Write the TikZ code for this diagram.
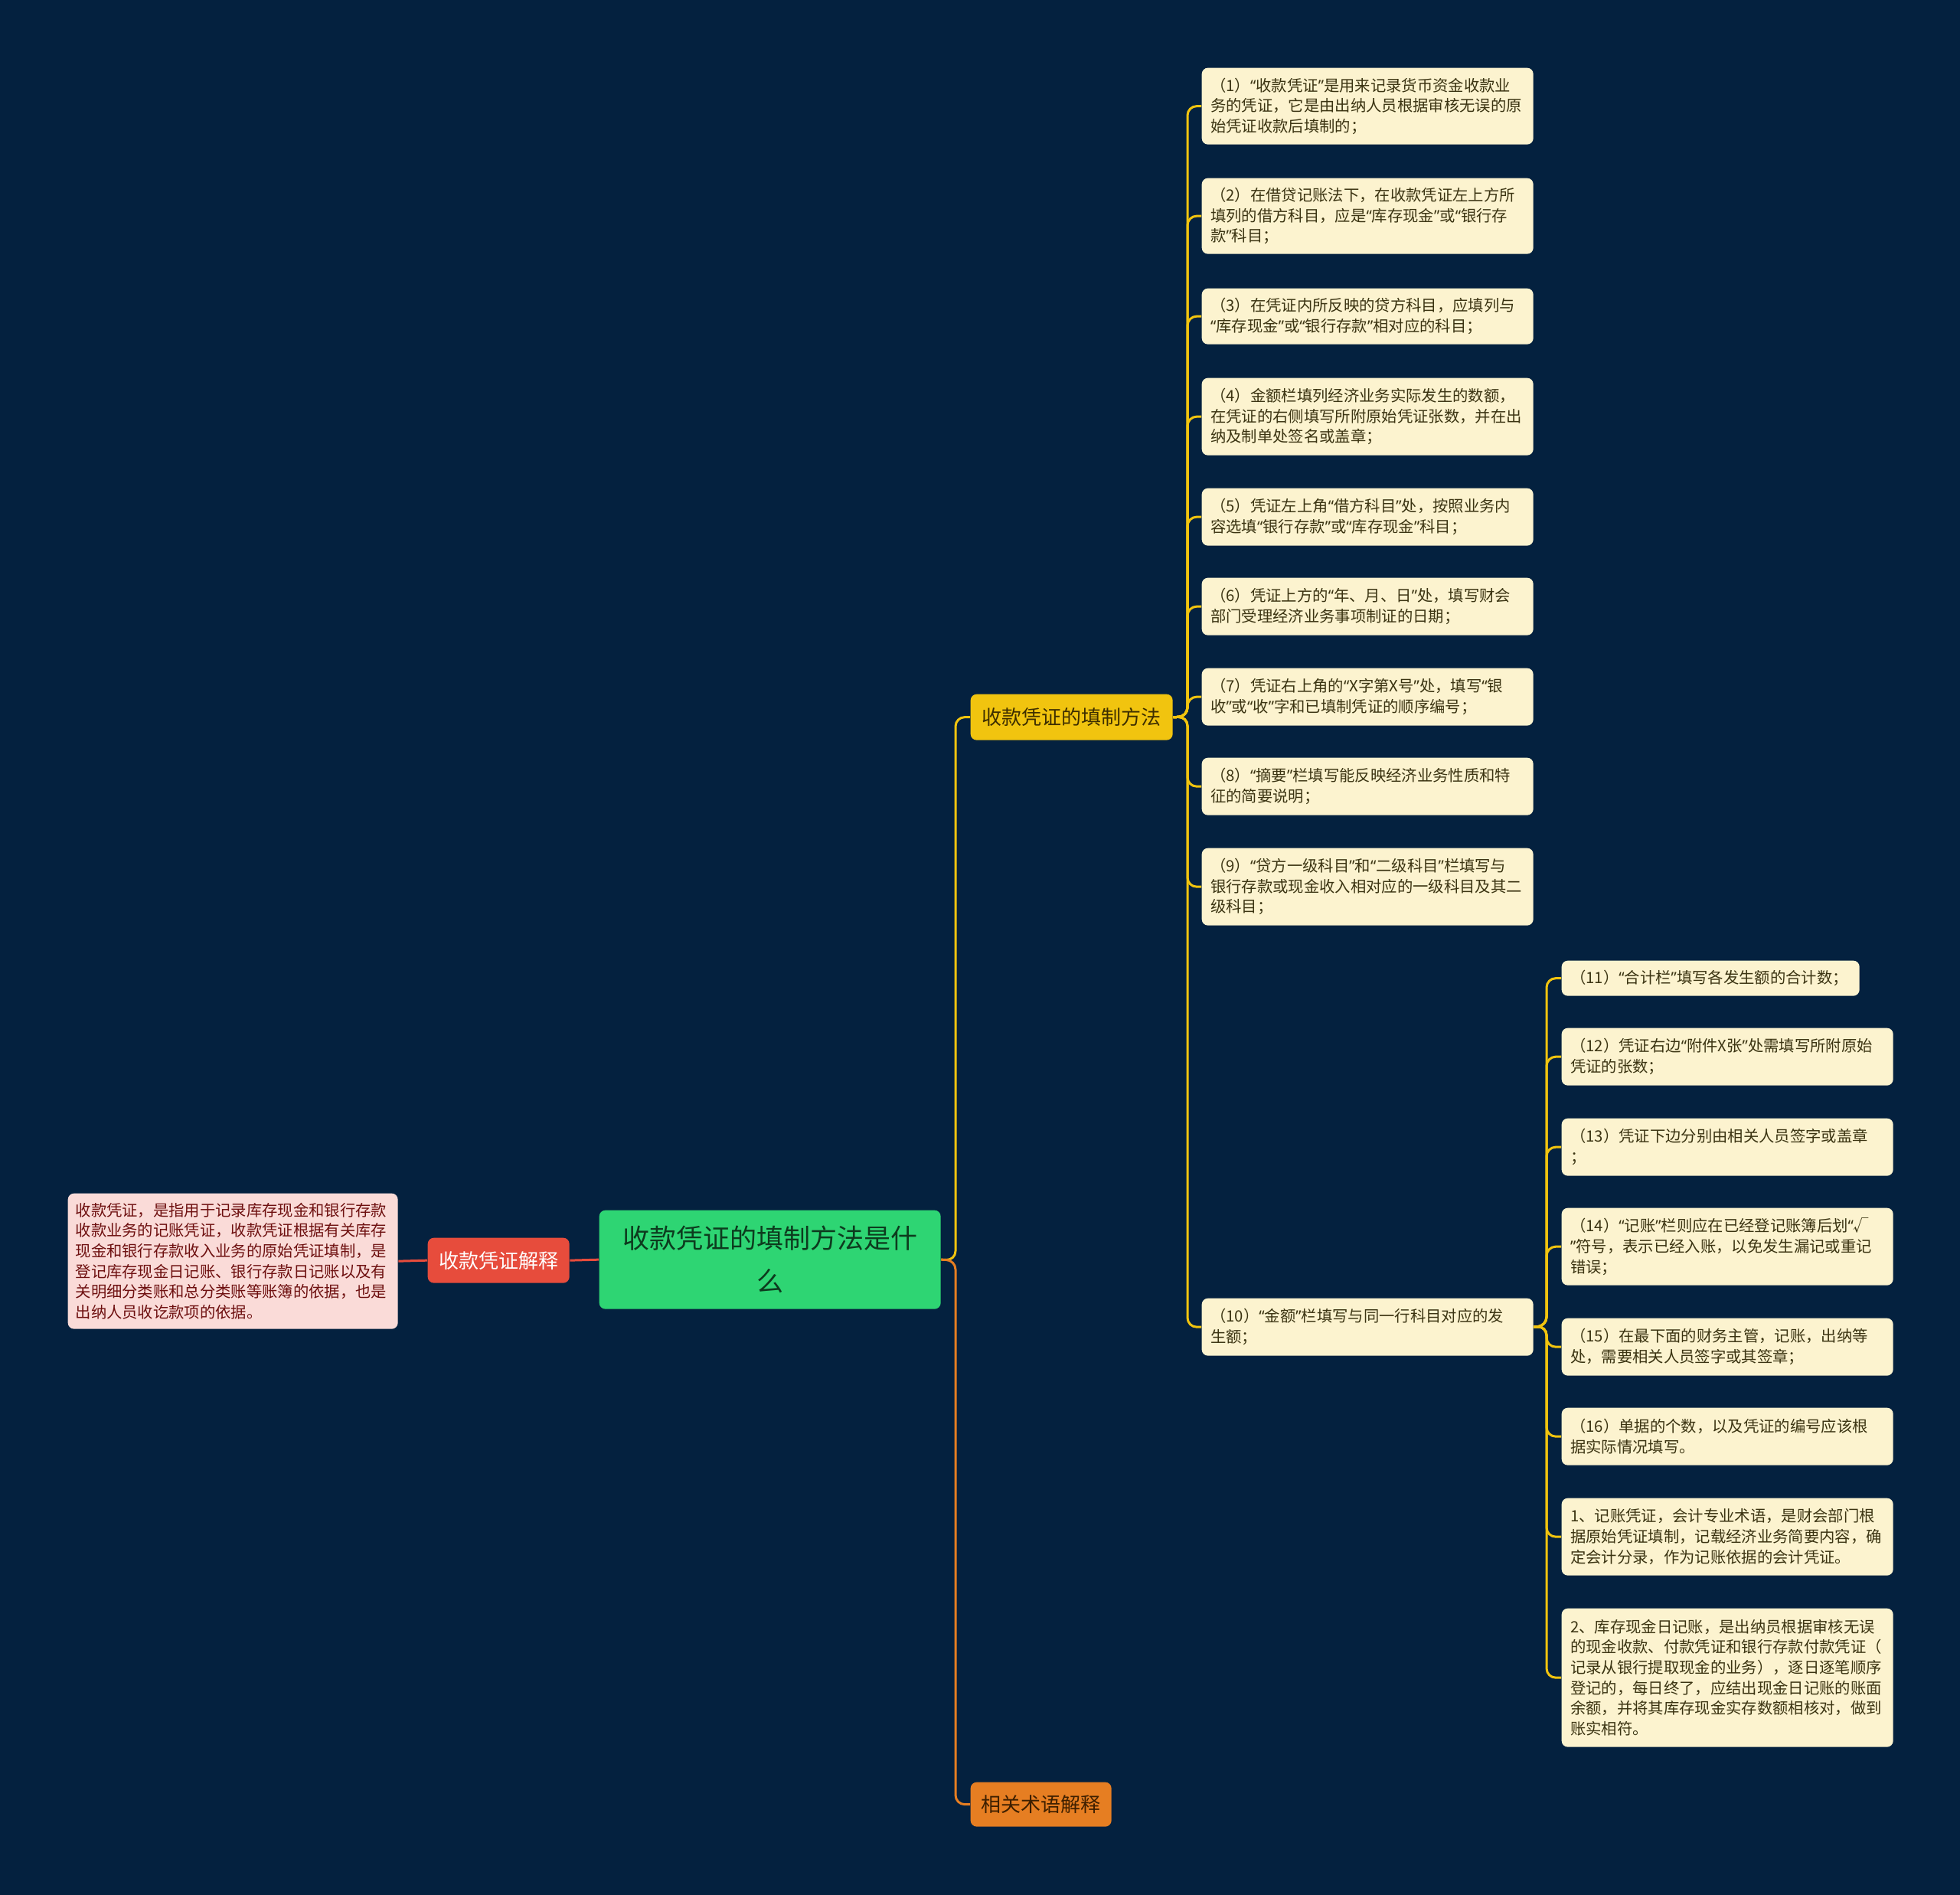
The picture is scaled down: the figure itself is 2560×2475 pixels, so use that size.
\documentclass[tikz,border=0pt]{standalone}
\usepackage{fontspec}
\setmainfont{Noto Sans CJK SC}
\newfontfamily\qfont{Noto Sans}
\definecolor{bg}{HTML}{04213F}
\definecolor{cream}{HTML}{FCF3CF}
\definecolor{creamtext}{HTML}{3B3412}
\definecolor{rootfill}{HTML}{2ED573}
\definecolor{roottext}{HTML}{0D3B1E}
\definecolor{redfill}{HTML}{E74C3C}
\definecolor{yelfill}{HTML}{F1C40F}
\definecolor{yeltext}{HTML}{3D2E00}
\definecolor{orafill}{HTML}{E67E22}
\definecolor{oratext}{HTML}{3D1F00}
\definecolor{pinkfill}{HTML}{FADBD8}
\definecolor{pinktext}{HTML}{6E1010}
\newcommand{\leafnode}[5]{\node[leaf, minimum height=#4*0.3pt] (#1) at (#2,#3) {#5};}
\catcode`“=\active \def“{{\qfont\char"201C}}
\catcode`”=\active \def”{{\qfont\char"201D}}
\begin{document}
\begin{tikzpicture}[x=0.3pt,y=-0.3pt,
  leaf/.style={fill=cream, text=creamtext, rounded corners=2.4pt, anchor=north west,
    inner xsep=3.45pt, inner ysep=0pt, text width=123pt, align=left,
    font=\fontsize{6.1pt}{8pt}\selectfont},
  branchbox/.style={rounded corners=2.4pt, anchor=north west, inner sep=0pt, align=center,
    font=\fontsize{7.8pt}{9pt}\selectfont},
  conn/.style={line width=0.9pt, rounded corners=3.6pt},
]
\fill[bg] (0,0) rectangle (2560,2475);
\useasboundingbox (0,0) rectangle (2560,2475);

% root
\node[fill=rootfill, text=roottext, rounded corners=2.4pt, anchor=north west, inner sep=0pt,
  minimum width=133.8pt, minimum height=38.7pt, text width=133.8pt, align=center,
  font=\fontsize{10.5pt}{16.8pt}\selectfont] (root) at (782,1580) {收款凭证的填制方法是什\\么};

% branches
\node[branchbox, fill=redfill, text=white, minimum width=55.5pt, minimum height=17.7pt] (red) at (558,1616) {收款凭证解释};
\node[branchbox, fill=yelfill, text=yeltext, minimum width=79.2pt, minimum height=18pt] (yel) at (1267,906) {收款凭证的填制方法};
\node[branchbox, fill=orafill, text=oratext, minimum width=55.2pt, minimum height=17.4pt] (ora) at (1267,2327) {相关术语解释};

% note
\node[fill=pinkfill, text=pinktext, rounded corners=2.4pt, anchor=north west, inner xsep=3pt, inner ysep=0pt,
  minimum height=53.1pt, text width=123.3pt, align=left, font=\fontsize{6.1pt}{8pt}\selectfont] (note) at (88,1558)
  {收款凭证，是指用于记录库存现金和银行存款\\收款业务的记账凭证，收款凭证根据有关库存\\现金和银行存款收入业务的原始凭证填制，是\\登记库存现金日记账、银行存款日记账以及有\\关明细分类账和总分类账等账簿的依据，也是\\出纳人员收讫款项的依据。};

% right column
\leafnode{c1}{1569}{88}{100}{（1）“收款凭证”是用来记录货币资金收款业\\务的凭证，它是由出纳人员根据审核无误的原\\始凭证收款后填制的；}
\leafnode{c2}{1569}{232}{99}{（2）在借贷记账法下，在收款凭证左上方所\\填列的借方科目，应是“库存现金”或“银行存\\款”科目；}
\leafnode{c3}{1569}{376}{73}{（3）在凭证内所反映的贷方科目，应填列与\\“库存现金”或“银行存款”相对应的科目；}
\leafnode{c4}{1569}{493}{101}{（4）金额栏填列经济业务实际发生的数额，\\在凭证的右侧填写所附原始凭证张数，并在出\\纳及制单处签名或盖章；}
\leafnode{c5}{1569}{637}{75}{（5）凭证左上角“借方科目”处，按照业务内\\容选填“银行存款”或“库存现金”科目；}
\leafnode{c6}{1569}{754}{75}{（6）凭证上方的“年、月、日”处，填写财会\\部门受理经济业务事项制证的日期；}
\leafnode{c7}{1569}{872}{75}{（7）凭证右上角的“X字第X号”处，填写“银\\收”或“收”字和已填制凭证的顺序编号；}
\leafnode{c8}{1569}{989}{75}{（8）“摘要”栏填写能反映经济业务性质和特\\征的简要说明；}
\leafnode{c9}{1569}{1107}{101}{（9）“贷方一级科目”和“二级科目”栏填写与\\银行存款或现金收入相对应的一级科目及其二\\级科目；}
\leafnode{c10}{1569}{1695}{75}{（10）“金额”栏填写与同一行科目对应的发\\生额；}

% sub column
\node[leaf, minimum height=46*0.3pt, text width=109.8pt] (d11) at (2039,1254) {（11）“合计栏”填写各发生额的合计数；};
\leafnode{d12}{2039}{1342}{75}{（12）凭证右边“附件X张”处需填写所附原始\\凭证的张数；}
\leafnode{d13}{2039}{1460}{75}{（13）凭证下边分别由相关人员签字或盖章\\；}
\leafnode{d14}{2039}{1577}{101}{（14）“记账”栏则应在已经登记账簿后划“√\\”符号，表示已经入账，以免发生漏记或重记\\错误；}
\leafnode{d15}{2039}{1721}{75}{（15）在最下面的财务主管，记账，出纳等\\处，需要相关人员签字或其签章；}
\leafnode{d16}{2039}{1838}{75}{（16）单据的个数，以及凭证的编号应该根\\据实际情况填写。}
\leafnode{d17}{2039}{1956}{101}{1、记账凭证，会计专业术语，是财会部门根\\据原始凭证填制，记载经济业务简要内容，确\\定会计分录，作为记账依据的会计凭证。}
\leafnode{d18}{2039}{2100}{181}{2、库存现金日记账，是出纳员根据审核无误\\的现金收款、付款凭证和银行存款付款凭证（\\记录从银行提取现金的业务），逐日逐笔顺序\\登记的，每日终了，应结出现金日记账的账面\\余额，并将其库存现金实存数额相核对，做到\\账实相符。}

% connectors
\coordinate (trunk) at (1248,1646);
\coordinate (ybus) at (1551,936);
\coordinate (sbus) at (2020,1732);
\draw[conn, yelfill] (root.east) -- (trunk) |- (yel.west);
\draw[conn, orafill] (root.east) -- (trunk) |- (ora.west);
\draw[conn, redfill] (root.west) -- (red.east);
\draw[conn, redfill] (red.west) -- (note.east);
\foreach \c in {c1,c2,c3,c4,c5,c6,c7,c8,c9,c10}{
  \draw[conn, yelfill] (yel.east) -- (ybus) |- (\c.west);
}
\foreach \d in {d11,d12,d13,d14,d15,d16,d17,d18}{
  \draw[conn, yelfill] (c10.east) -- (sbus) |- (\d.west);
}
\end{tikzpicture}
\end{document}
